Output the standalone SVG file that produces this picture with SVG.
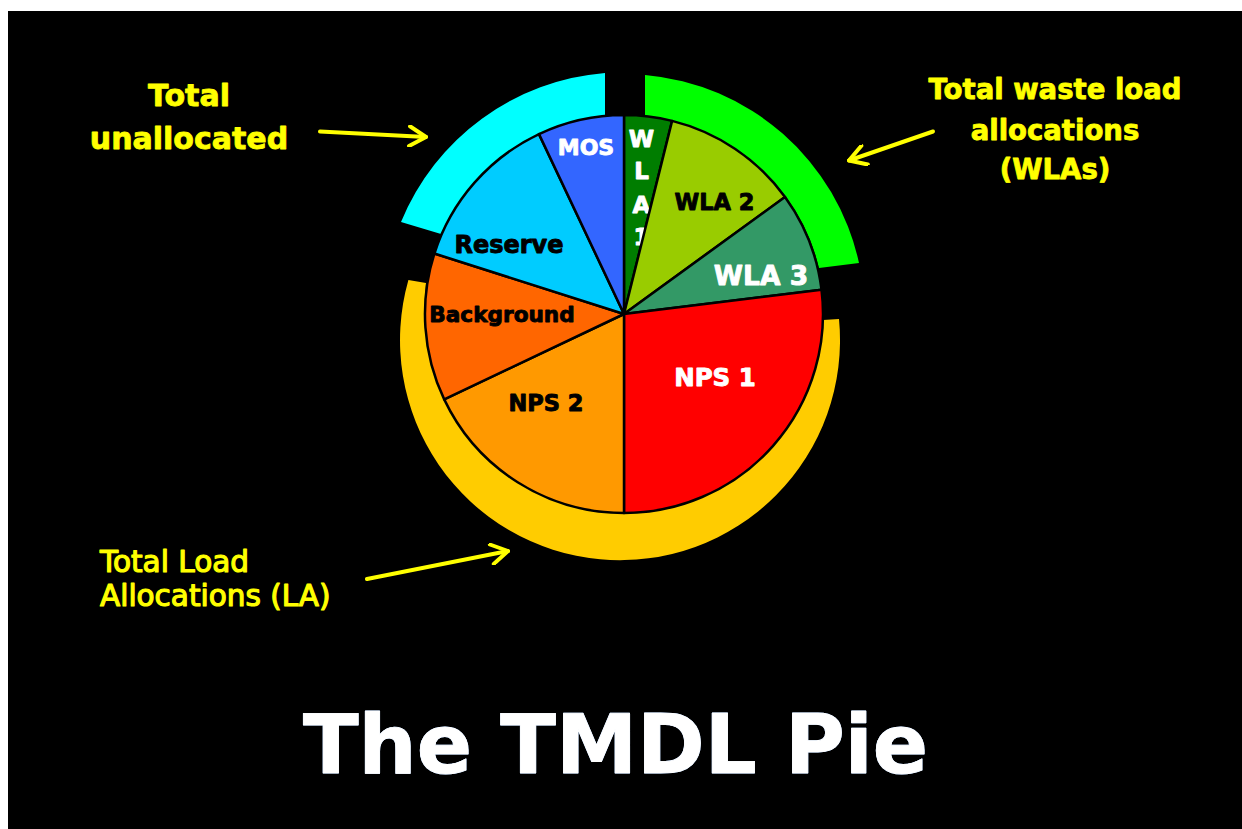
<svg xmlns="http://www.w3.org/2000/svg" width="1242" height="829" viewBox="0 0 1242 829">
<defs>
<style>
.lbl{font-family:"DejaVu Sans","Liberation Sans",sans-serif;font-weight:bold;text-anchor:middle;stroke-width:0.9;stroke-linejoin:round}
.w{fill:#fff;stroke:#fff}
.k{fill:#000;stroke:#000}
.note{font-family:"DejaVu Sans","Liberation Sans",sans-serif;fill:#ffff00;stroke:#ffff00;stroke-linejoin:round}
.sl{stroke:#000;stroke-width:2.5;stroke-linejoin:round}
.arr{stroke:#ffff00;stroke-width:4;fill:none;stroke-linecap:round}
</style>
<marker id="ah" viewBox="0 0 20 20" refX="18" refY="10" markerWidth="22" markerHeight="22" markerUnits="userSpaceOnUse" orient="auto">
<path d="M3,1 L18,10 L3,19" fill="none" stroke="#ffff00" stroke-width="3.6" stroke-linecap="round" stroke-linejoin="round"/>
</marker>
</defs>
<rect x="0" y="0" width="1242" height="829" fill="#ffffff"/>
<rect x="8" y="11" width="1234" height="818" fill="#000000"/>

<g id="ring-unallocated">
<path d="M605,73 A241,241 0 0 0 401,222 L441,234 A199,199 0 0 1 605,116 Z" fill="#00ffff"/>
</g>
<g id="ring-wla">
<path d="M645,75 A240,240 0 0 1 859,263 L819,268 A200,200 0 0 0 645,116 Z" fill="#00ff00"/>
</g>
<g id="ring-la">
<path d="M408.4,280 A220,220 0 1 0 839,319 L823,320 A199,199 0 1 1 426,283 Z" fill="#ffcc00"/>
</g>

<g id="slice-wla1"><path class="sl" d="M624,314 L624,115 A199,199 0 0 1 672.1,120.9 Z" fill="#007d00"/>
<text class="lbl w" x="641.5" y="147" font-size="23">W</text>
<text class="lbl w" x="641.5" y="179" font-size="23">L</text>
<text class="lbl w" x="641.5" y="213" font-size="23">A</text>
<text class="lbl w" x="641.5" y="245" font-size="23">1</text></g>
<g id="slice-wla2"><path class="sl" d="M624,314 L672.1,120.9 A199,199 0 0 1 785,197 Z" fill="#99cc00"/>
<text class="lbl k" x="714.5" y="210" font-size="22.5">WLA 2</text></g>
<g id="slice-wla3"><path class="sl" d="M624,314 L785,197 A199,199 0 0 1 821.5,289.7 Z" fill="#339966"/>
<text class="lbl w" x="761" y="285" font-size="26.5">WLA 3</text></g>
<g id="slice-nps1"><path class="sl" d="M624,314 L821.5,289.7 A199,199 0 0 1 624,513 Z" fill="#ff0000"/>
<text class="lbl w" x="715" y="386" font-size="24.5">NPS 1</text></g>
<g id="slice-nps2"><path class="sl" d="M624,314 L624,513 A199,199 0 0 1 444.2,399.4 Z" fill="#ff9900"/>
<text class="lbl k" x="546" y="411" font-size="22.5">NPS 2</text></g>
<g id="slice-background"><path class="sl" d="M624,314 L444.2,399.4 A199,199 0 0 1 434.4,253.5 Z" fill="#ff6600"/>
<text class="lbl k" x="502" y="321.5" font-size="21.6">Background</text></g>
<g id="slice-reserve"><path class="sl" d="M624,314 L434.4,253.5 A199,199 0 0 1 539,134.1 Z" fill="#00ccff"/>
<text class="lbl k" x="509" y="253" font-size="24">Reserve</text></g>
<g id="slice-mos"><path class="sl" d="M624,314 L539,134.1 A199,199 0 0 1 624,115 Z" fill="#3366ff"/>
<text class="lbl w" x="586" y="155" font-size="22">MOS</text></g>

<g id="label-unallocated">
<text class="note" font-weight="bold" stroke-width="0.8" font-size="30" text-anchor="middle" x="189" y="106">Total</text>
<text class="note" font-weight="bold" stroke-width="0.8" font-size="30" text-anchor="middle" x="189" y="149">unallocated</text>
</g>
<g id="label-wla">
<text class="note" font-weight="bold" stroke-width="0.8" font-size="27.5" text-anchor="middle" x="1055" y="99">Total waste load</text>
<text class="note" font-weight="bold" stroke-width="0.8" font-size="27.5" text-anchor="middle" x="1055" y="140">allocations</text>
<text class="note" font-weight="bold" stroke-width="0.8" font-size="27.5" text-anchor="middle" x="1055" y="179">(WLAs)</text>
</g>
<g id="label-la">
<text class="note" stroke-width="1.2" font-size="29.5" x="100" y="572">Total Load</text>
<text class="note" stroke-width="1.2" font-size="29.5" x="100" y="606">Allocations (LA)</text>
</g>

<g id="connectors">
<line class="arr" x1="320" y1="131.5" x2="426" y2="137" marker-end="url(#ah)"/>
<line class="arr" x1="933" y1="131.5" x2="849" y2="160.5" marker-end="url(#ah)"/>
<line class="arr" x1="367" y1="579" x2="508" y2="551" marker-end="url(#ah)"/>
</g>

<g id="title">
<text class="lbl" x="615.5" y="773" font-size="82" textLength="625" lengthAdjust="spacingAndGlyphs" fill="#fff" stroke="#4f7fbf" stroke-width="5">The TMDL Pie</text>
<text class="lbl" x="615.5" y="773" font-size="82" textLength="625" lengthAdjust="spacingAndGlyphs" fill="#fff" stroke="#fff" stroke-width="3">The TMDL Pie</text>
</g>
</svg>
